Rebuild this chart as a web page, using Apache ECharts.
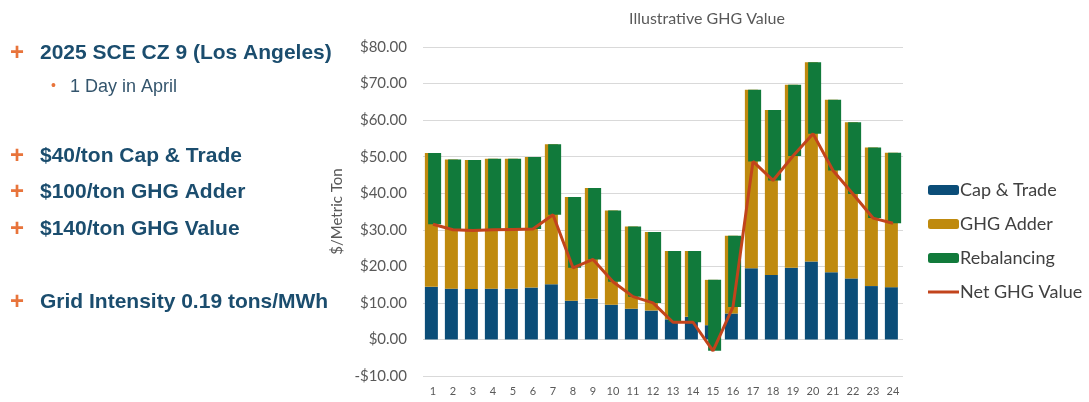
<!DOCTYPE html>
<html>
<head>
<meta charset="utf-8">
<style>
  html, body { margin: 0; padding: 0; background: #fff; }
  #main { width: 1089px; height: 402px; }
</style>
</head>
<body>
<div id="main"></div>
<script src="https://cdn.jsdelivr.net/npm/echarts@6/dist/echarts.min.js"></script>
<script type="text/javascript">
    // hours of the day
    var hours = ['1','2','3','4','5','6','7','8','9','10','11','12','13','14','15','16','17','18','19','20','21','22','23','24'];
    // $/metric ton
    var capTrade = [14.4,13.9,13.8,13.9,13.9,14.2,15.1,10.6,11.1,9.5,8.4,7.9,5.5,6.2,3.9,7.1,19.5,17.6,19.6,21.3,18.4,16.7,14.6,14.3];
    var ghgAdder = [36.6,35.3,35.3,35.5,35.5,35.7,38.3,28.4,30.3,25.8,22.5,21.5,18.7,18.0,12.4,21.3,48.8,45.2,50.1,54.5,47.2,42.7,37.9,36.8];
    var rebalancing = [-19.5,-19.2,-19.3,-19.4,-19.3,-19.7,-19.3,-19.4,-19.5,-19.5,-19.2,-19.4,-19.5,-19.5,-19.4,-19.5,-19.6,-19.3,-19.5,-19.5,-19.4,-19.6,-19.3,-19.3];
    var netGhg = [31.5,30.0,29.8,30.0,30.1,30.2,34.1,19.6,21.9,15.8,11.7,10.0,4.7,4.7,-3.1,8.9,48.7,43.5,50.2,56.3,46.2,39.8,33.2,31.8];

    var notes = [
        { text: '2025 SCE CZ 9 (Los Angeles)', y: 55, big: true },
        { text: '1 Day in April', y: 88, big: false },
        { text: '$40/ton Cap & Trade', y: 158, big: true },
        { text: '$100/ton GHG Adder', y: 194, big: true },
        { text: '$140/ton GHG Value', y: 231, big: true },
        { text: 'Grid Intensity 0.19 tons/MWh', y: 304, big: true }
    ];

    // green bar floats from the net value up to the top of the stack
    var rebalBase = netGhg.slice();
    var rebalHeight = rebalancing.map(function (v) { return -v; });

    var gfx = [];
    notes.forEach(function (n) {
        if (n.big) {
            gfx.push({ type: 'text', left: 10, top: n.y - 14,
                style: { text: '+', fill: '#E8743B', font: 'bold 24px "Liberation Sans", Arial, sans-serif' } });
            gfx.push({ type: 'text', left: 40, top: n.y - 12,
                style: { text: n.text, fill: '#1B4D6E', font: 'bold 21px "Liberation Sans", Arial, sans-serif' } });
        } else {
            gfx.push({ type: 'text', left: 51, top: n.y - 9,
                style: { text: '•', fill: '#E8743B', font: '14px "Liberation Sans", Arial, sans-serif' } });
            gfx.push({ type: 'text', left: 70, top: n.y - 10,
                style: { text: n.text, fill: '#34556D', font: '18px "Liberation Sans", Arial, sans-serif' } });
        }
    });

    var myChart = echarts.init(document.getElementById('main'));
    myChart.setOption({
        animation: false,
        title: {
            text: 'Illustrative GHG Value',
            left: 702, top: 6, textAlign: 'center',
            textStyle: { fontFamily: 'Lato', fontWeight: 'normal', fontSize: 16, color: '#595959' }
        },
        legend: {
            orient: 'vertical',
            left: 923, top: 176,
            itemWidth: 31, itemHeight: 10, itemGap: 16,
            data: ['Cap & Trade', 'GHG Adder', 'Rebalancing',
                { name: 'Net GHG Value', icon: 'path://M0,0H31V3H0Z' }],
            textStyle: { fontFamily: 'Lato', fontSize: 18, color: '#404040', padding: [0, 0, 0, -4] }
        },
        grid: { left: 423, right: 186, top: 47, bottom: 26 },
        xAxis: {
            type: 'category',
            data: hours,
            axisLine: { show: false, onZero: false },
            axisTick: { show: false },
            axisLabel: { fontFamily: 'Lato', fontSize: 11, color: '#595959', margin: 10 }
        },
        yAxis: {
            type: 'value',
            min: -10, max: 80, interval: 10,
            name: '$/Metric Ton',
            nameLocation: 'middle',
            nameGap: 78,
            nameTextStyle: { fontFamily: 'Lato', fontSize: 15, color: '#595959' },
            axisLabel: {
                fontFamily: 'Lato', fontSize: 15, color: '#595959', margin: 16,
                formatter: function (v) { return (v < 0 ? '-$' : '$') + Math.abs(v).toFixed(2); }
            },
            splitLine: { lineStyle: { color: '#D9D9D9' } }
        },
        graphic: gfx,
        series: [
            { name: 'Cap & Trade', type: 'bar', stack: 'main', barWidth: 13, barGap: '-75%',
              itemStyle: { color: '#0B4D78' }, data: capTrade },
            { name: 'GHG Adder', type: 'bar', stack: 'main',
              itemStyle: { color: '#BF8A0E' }, data: ghgAdder },
            { name: 'rebalBase', type: 'bar', stack: 'rebal', stackStrategy: 'all', barWidth: 13,
              itemStyle: { color: 'transparent' }, silent: true, data: rebalBase },
            { name: 'Rebalancing', type: 'bar', stack: 'rebal', stackStrategy: 'all',
              itemStyle: { color: '#117A3B' }, data: rebalHeight },
            { name: 'Net GHG Value', type: 'line', symbol: 'none', z: 5,
              lineStyle: { color: '#C2441C', width: 3 }, itemStyle: { color: '#C2441C' }, data: netGhg }
        ]
    });
</script>
</body>
</html>
